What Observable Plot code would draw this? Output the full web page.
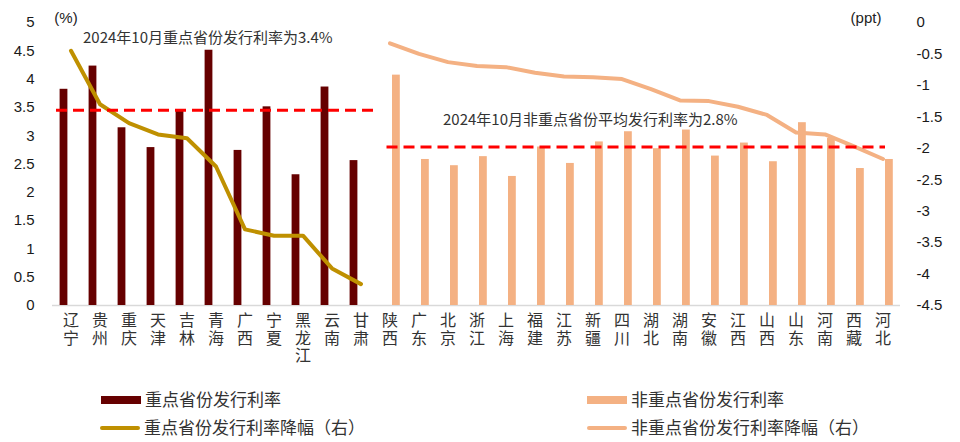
<!DOCTYPE html>
<html><head><meta charset="utf-8">
<script src="https://cdn.jsdelivr.net/npm/d3@7"></script>
<script src="https://cdn.jsdelivr.net/npm/@observablehq/plot@0.6"></script>
<style>
body{margin:0;background:#fff;}
#wrap{position:relative;width:960px;height:442px;overflow:hidden;background:#fff;}
.lt{position:absolute;font-family:"Noto Sans CJK SC";font-size:17px;color:#333;line-height:20px;white-space:nowrap;}
.sw{position:absolute;}
</style></head><body><div id="wrap"></div>
<script>
// ---- data ----
const keyProv = ["辽宁","贵州","重庆","天津","吉林","青海","广西","宁夏","黑龙江","云南","甘肃"];
const keyRate = [3.82,4.23,3.14,2.79,3.44,4.51,2.74,3.51,2.31,3.86,2.56];
const keyDrop = [-0.45,-1.30,-1.60,-1.78,-1.84,-2.29,-3.29,-3.39,-3.39,-3.91,-4.16];
const nonKeyProv = ["陕西","广东","北京","浙江","上海","福建","江苏","新疆","四川","湖北","湖南","安徽","江西","山西","山东","河南","西藏","河北"];
const nonKeyRate = [4.07,2.58,2.47,2.63,2.28,2.80,2.51,2.89,3.07,2.77,3.10,2.64,2.87,2.54,3.23,2.95,2.42,2.58];
const nonKeyDrop = [-0.33,-0.50,-0.63,-0.69,-0.71,-0.80,-0.86,-0.87,-0.90,-1.06,-1.24,-1.25,-1.34,-1.47,-1.75,-1.78,-1.97,-2.17];
const keyAvg = 3.45;
const nonKeyAvg = 2.8;
const leftTicks = [0,0.5,1,1.5,2,2.5,3,3.5,4,4.5,5];
const rightTicks = [0,-0.5,-1,-1.5,-2,-2.5,-3,-3.5,-4,-4.5];
const note1 = "2024年10月重点省份发行利率为3.4%";
const note2 = "2024年10月非重点省份平均发行利率为2.8%";
const legendNames = ["重点省份发行利率","非重点省份发行利率","重点省份发行利率降幅（右）","非重点省份发行利率降幅（右）"];

// ---- helpers ----
const toLeft = r => (r + 4.5) * 10 / 9;          // right axis (ppt) -> left axis (%)
const fromLeft = l => Math.round((l * 9 / 10 - 4.5) * 10) / 10;
const allProv = keyProv.concat(nonKeyProv);
const keyBars = keyProv.map((p, i) => ({p, v: keyRate[i]}));
const nonKeyBars = nonKeyProv.map((p, i) => ({p, v: nonKeyRate[i]}));
const keyLine = keyProv.map((p, i) => ({p, v: toLeft(keyDrop[i])}));
const nonKeyLine = nonKeyProv.map((p, i) => ({p, v: toLeft(nonKeyDrop[i])}));

const C_DARK = "#660000", C_PEACH = "#F4B183", C_GOLD = "#BF9000", C_RED = "#FF0000";
const CJK = "Noto Sans CJK SC";
const LAT = "Liberation Sans, Arial, sans-serif";

const chart = Plot.plot({
  width: 960, height: 382,
  marginTop: 22, marginBottom: 77, marginLeft: 52, marginRight: 60,
  x: {type: "band", domain: allProv, padding: 0},
  y: {domain: [0, 5]},
  style: {background: "#fff", overflow: "visible"},
  marks: [
    Plot.ruleY([0], {stroke: "#d9d9d9", strokeWidth: 1.5}),
    Plot.barY(keyBars, {x: "p", y: "v", fill: C_DARK, insetLeft: 3.6, insetRight: 17.6}),
    Plot.barY(nonKeyBars, {x: "p", y: "v", fill: C_PEACH, insetLeft: 17, insetRight: 4.2}),
    Plot.lineY(keyLine, {x: "p", y: "v", stroke: C_GOLD, strokeWidth: 4, strokeLinejoin: "round"}),
    Plot.lineY(nonKeyLine, {x: "p", y: "v", stroke: C_PEACH, strokeWidth: 4, strokeLinejoin: "round"}),
    Plot.ruleY([{y: keyAvg, a: keyProv[0], b: keyProv[keyProv.length - 1]}],
      {y: "y", x1: "a", x2: "b", stroke: C_RED, strokeWidth: 3, strokeDasharray: "11,6", insetRight: -3}),
    Plot.ruleY([{y: nonKeyAvg, a: nonKeyProv[0], b: nonKeyProv[nonKeyProv.length - 1]}],
      {y: "y", x1: "a", x2: "b", stroke: C_RED, strokeWidth: 3, strokeDasharray: "11,6", insetLeft: 11.5, insetRight: 12}),
    Plot.text([{p: keyProv[0], y: 4.72, t: note1}], {x: "p", y: "y", text: "t", textAnchor: "start", dx: 12, fontSize: 15, fontFamily: CJK, fill: "#333"}),
    Plot.text([{p: nonKeyProv[2], y: 3.27, t: note2}], {x: "p", y: "y", text: "t", textAnchor: "start", dx: -5, fontSize: 15, fontFamily: CJK, fill: "#333"}),
    Plot.text([{p: keyProv[0], y: 5.07, t: "(%)"}], {x: "p", y: "y", text: "t", dx: -5, fontSize: 15, fontFamily: LAT, fill: "#222"}),
    Plot.text([{p: nonKeyProv[nonKeyProv.length - 1], y: 5.07, t: "(ppt)"}], {x: "p", y: "y", text: "t", dx: -17, fontSize: 15, fontFamily: LAT, fill: "#222"}),
    Plot.axisY({anchor: "left", ticks: leftTicks, tickSize: 0, tickPadding: 18, tickFormat: d => String(d), fontSize: 15, fontFamily: LAT, fill: "#1a1a1a", label: null}),
    Plot.axisY({anchor: "right", ticks: rightTicks.map(toLeft), tickSize: 0, tickPadding: 16, tickFormat: d => String(fromLeft(d)), fontSize: 15, fontFamily: LAT, fill: "#1a1a1a", label: null}),
    Plot.axisX({tickSize: 0, tickPadding: 8, tickFormat: d => d.split("").join("\n"), fontSize: 16, lineHeight: 1.1, fontFamily: CJK, fill: "#333", label: null})
  ]
});
const wrap = document.getElementById("wrap");
wrap.appendChild(chart);

// ---- legend (HTML below the SVG) ----
const legendItems = [
  {name: legendNames[0], color: C_DARK, kind: "rect", x: 101, y: 400},
  {name: legendNames[1], color: C_PEACH, kind: "rect", x: 587, y: 400},
  {name: legendNames[2], color: C_GOLD, kind: "line", x: 100, y: 428},
  {name: legendNames[3], color: C_PEACH, kind: "line", x: 587, y: 428}
];
for (const it of legendItems) {
  const sw = document.createElement("div");
  sw.className = "sw";
  const h = it.kind === "rect" ? 8 : 4;
  sw.style.left = it.x + "px";
  sw.style.top = (it.y - h / 2) + "px";
  sw.style.width = "40px";
  sw.style.height = h + "px";
  sw.style.background = it.color;
  if (it.kind === "line") sw.style.borderRadius = "2px";
  wrap.appendChild(sw);
  const t = document.createElement("div");
  t.className = "lt";
  t.textContent = it.name;
  t.style.left = (it.x + 44) + "px";
  t.style.top = (it.y - 11) + "px";
  wrap.appendChild(t);
}
</script></body></html>
